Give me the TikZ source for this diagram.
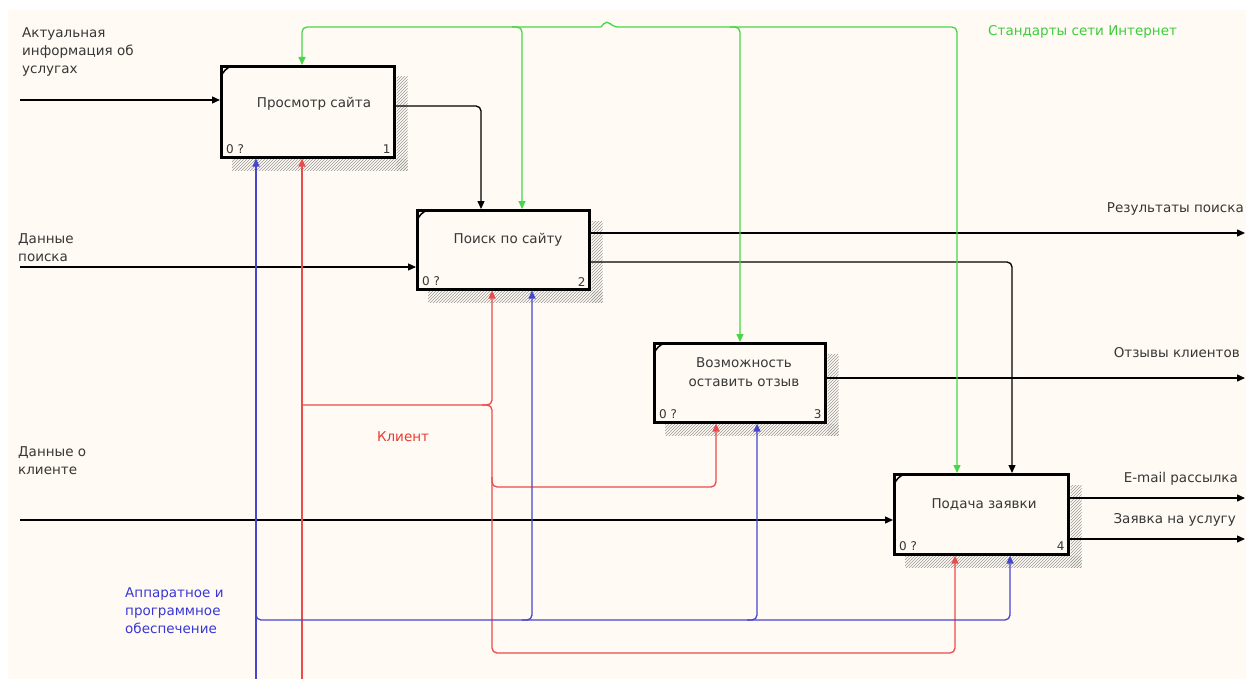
\documentclass[tikz,border=0pt]{standalone}
\usepackage{fontspec}
\setmainfont{DejaVu Sans}
\usetikzlibrary{arrows.meta,patterns,calc}
\definecolor{bgc}{RGB}{255,250,243}
\definecolor{txt}{RGB}{55,55,55}
\definecolor{gline}{RGB}{70,215,70}
\definecolor{gtext}{RGB}{60,205,60}
\definecolor{rline}{RGB}{235,75,75}
\definecolor{rtext}{RGB}{230,60,50}
\definecolor{bline}{RGB}{70,70,205}
\definecolor{btext}{RGB}{55,55,215}
\tikzset{
  box/.style={draw=black, line width=2.6pt, fill=bgc, anchor=north west, inner sep=0pt},
  lbl/.style={font=\fontsize{13.5}{18}\selectfont, text=txt, align=left, inner sep=0pt},
  btxt/.style={font=\fontsize{13.5}{19}\selectfont, text=txt, align=center, inner sep=0pt},
  small/.style={font=\fontsize{12}{13}\selectfont, text=txt, inner sep=0pt},
  conn/.style={line width=1.3pt, rounded corners=5pt, -{Triangle[length=8pt,width=7pt]}},
  nconn/.style={line width=1.3pt, rounded corners=5pt},
  hatch/.style={pattern=north east lines, pattern color=gray!80},
}
\newcommand\idefdeco[2]{%
  \fill[hatch] ($(#1.north east)+(1,12)$) rectangle ($(#1.south east)+(12,12)$);
  \fill[hatch] ($(#1.south west)+(12,1)$) rectangle ($(#1.south east)+(12,12)$);
  \node[box, minimum width=\csname w#1\endcsname pt, minimum height=\csname h#1\endcsname pt] at (#1.north west) {};
  \draw[line width=1.5pt] ($(#1.north west)+(1,12)$) to[bend left=25] ($(#1.north west)+(12,1)$);
  \node[small, anchor=west] at ($(#1.south west)+(6,-9)$) {0 ?};
  \node[small, anchor=east] at ($(#1.south east)+(-5,-9)$) {#2};
}
\begin{document}
\begin{tikzpicture}[x=1pt,y=-1pt]
\useasboundingbox (0,0) rectangle (1246,679);
\fill[white] (0,0) rectangle (1246,679);
\fill[bgc] (8,10) rectangle (1246,679);

% boxes (geometry)
\expandafter\def\csname wb1\endcsname{173}\expandafter\def\csname hb1\endcsname{91}
\expandafter\def\csname wb2\endcsname{172}\expandafter\def\csname hb2\endcsname{79}
\expandafter\def\csname wb3\endcsname{171}\expandafter\def\csname hb3\endcsname{79}
\expandafter\def\csname wb4\endcsname{174}\expandafter\def\csname hb4\endcsname{80}
\node[box, draw=none, fill=none, minimum width=173pt, minimum height=91pt] (b1) at (220,65) {};
\node[box, draw=none, fill=none, minimum width=172pt, minimum height=79pt] (b2) at (416,209) {};
\node[box, draw=none, fill=none, minimum width=171pt, minimum height=79pt] (b3) at (653,342) {};
\node[box, draw=none, fill=none, minimum width=174pt, minimum height=80pt] (b4) at (893,473) {};
\idefdeco{b1}{1}
\idefdeco{b2}{2}
\idefdeco{b3}{3}
\idefdeco{b4}{4}

\node[btxt] (t1) at (314,104) {Просмотр сайта};
\node[btxt] (t2) at (508,240) {Поиск по сайту};
\node[btxt] (t3) at (744,372) {Возможность\\оставить отзыв};
\node[btxt] (t4) at (984,505) {Подача заявки};

% free-end coordinates
\coordinate (in1) at (20,100);
\coordinate (in2) at (20,267);
\coordinate (in4) at (20,520);
\coordinate (o2a) at (1245,233);
\coordinate (o3) at (1245,378);
\coordinate (o4a) at (1245,498);
\coordinate (o4b) at (1245,539);
\coordinate (rb) at (302,679);
\coordinate (bb) at (256,679);

% labels
\node[lbl, anchor=north west] (l1) at (22,27) {Актуальная\\информация об\\услугах};
\node[lbl, anchor=north west] (l2) at (18,233) {Данные\\поиска};
\node[lbl, anchor=north west] (l4) at (18,446) {Данные о\\клиенте};
\node[lbl, anchor=south east] (l5) at (1244,216) {Результаты поиска};
\node[lbl, anchor=south east] (l6) at (1240,358) {Отзывы клиентов};
\node[lbl, anchor=south east] (l7) at (1238,486) {E-mail рассылка};
\node[lbl, anchor=south east] (l8) at (1236,527) {Заявка на услугу};
\node[lbl, text=gtext, anchor=west] (l9) at (988,32) {Стандарты сети Интернет};
\node[lbl, text=rtext] (l10) at (403,437) {Клиент};
\node[lbl, text=btext, anchor=north west] (l11) at (125,587) {Аппаратное и\\программное\\обеспечение};

% inputs
\draw[conn] (in1) -- (b1.west |- in1);
\draw[conn] (in2) -- (b2.west |- in2);
\draw[conn] (in4) -- (b4.west |- in4);

% outputs
\draw[conn] (b1.east |- 0,106) -| (481,0 |- b2.north);
\draw[conn] (b2.east |- o2a) -- (o2a);
\draw[conn] (b2.east |- 0,262) -| (1012,0 |- b4.north);
\draw[conn] (b3.east |- o3) -- (o3);
\draw[conn] (b4.east |- o4a) -- (o4a);
\draw[conn] (b4.east |- o4b) -- (o4b);

% controls (green)
\draw[conn, gline] (601,27) -| (302,0 |- b1.north);
\draw[conn, gline] (601,27) -- (607,20) -- (613,27) -| (957,0 |- b4.north);
\draw[conn, gline] (512,27) -| (522,0 |- b2.north);
\draw[conn, gline] (730,27) -| (740,0 |- b3.north);

% mechanisms red (Клиент)
\draw[conn, rline] (rb) -- (302,0 |- b1.south);
\draw[conn, rline] (302,405) -| (492,0 |- b2.south);
\draw[conn, rline] (482,405) -| (492,653) -| (955,0 |- b4.south);
\draw[conn, rline] (492,477) |- (600,487) -| (716,0 |- b3.south);

% mechanisms blue
\draw[conn, bline] (bb) -- (256,0 |- b1.south);
\draw[conn, bline] (256,610) |- (600,620) -| (1010,0 |- b4.south);
\draw[conn, bline] (522,620) -| (532,0 |- b2.south);
\draw[conn, bline] (747,620) -| (757,0 |- b3.south);
\end{tikzpicture}
\end{document}
